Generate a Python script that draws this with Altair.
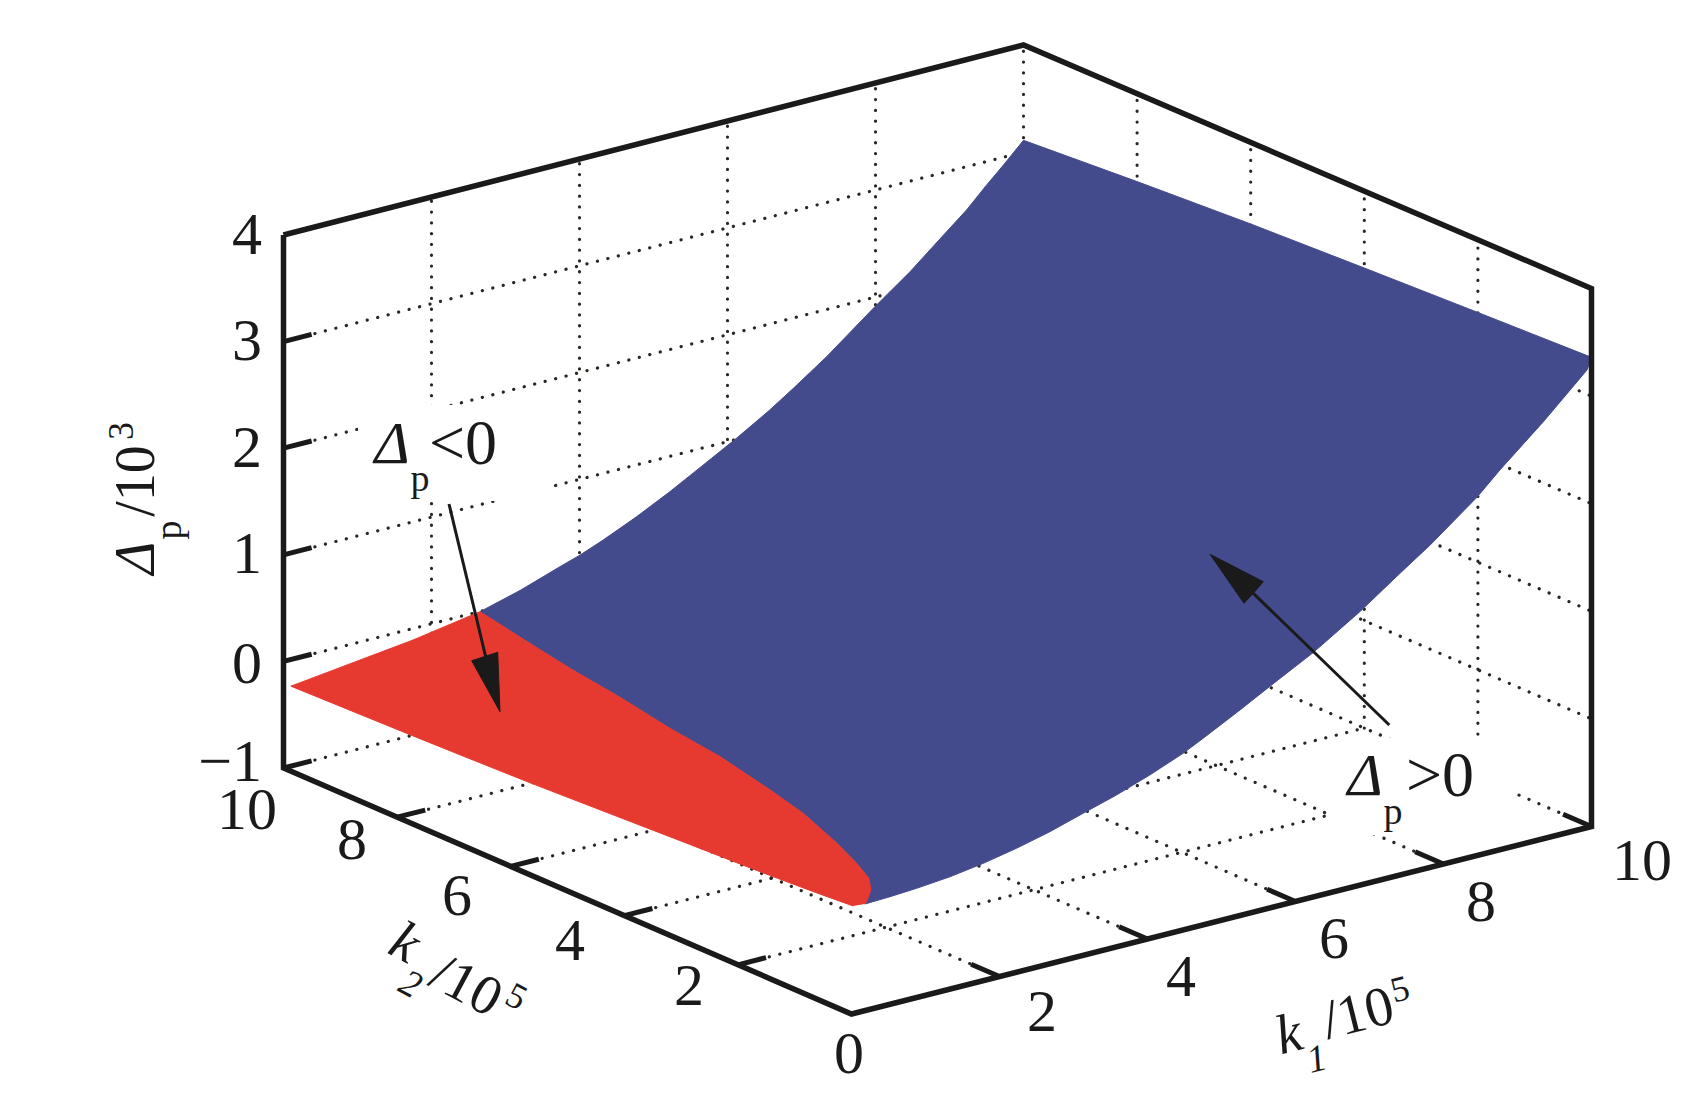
import altair as alt
import pandas as pd

# ---------- values ----------
TICKS_K = [0, 2, 4, 6, 8, 10]
TICKS_D = [-1, 0, 1, 2, 3, 4]

# surface edges: (k1, k2, delta_p)
edge_k2_low_k1 = [0.18, 0.52, 0.88, 1.33, 1.78, 2.23, 2.68, 3.13, 3.58, 4.03, 4.48, 4.75, 5.25, 5.66, 6.24, 6.87, 7.41, 7.82, 8.45, 8.76, 9.35, 9.94]
edge_k2_low_d = [-0.005, 0.004, 0.019, 0.048, 0.094, 0.156, 0.231, 0.324, 0.415, 0.523, 0.646, 0.738, 0.915, 1.067, 1.276, 1.546, 1.807, 1.999, 2.331, 2.53, 2.877, 3.254]

edge_k1_high_k2 = [0, 2, 4, 6, 8]
edge_k1_high_d = [3.36, 3.324, 3.284, 3.24, 3.18]

edge_k2_high_k1 = [10.0, 9.73, 9.50, 9.23, 8.92, 8.47, 7.99, 7.34, 6.89, 6.57, 6.12, 5.67, 5.22, 4.77, 4.32, 4.01, 3.74, 3.20, 2.655]
edge_k2_high_d = [3.11, 2.928, 2.78, 2.595, 2.417, 2.155, 1.91, 1.559, 1.342, 1.195, 1.01, 0.839, 0.669, 0.514, 0.376, 0.291, 0.23, 0.102, -0.002]

zero_k1 = [2.49, 2.30, 2.16, 1.97, 1.84, 1.61, 1.43, 1.13, 0.90, 0.71, 0.50, 0.23]
zero_k2 = [9.08, 7.95, 6.90, 5.76, 4.71, 3.53, 2.71, 1.73, 1.08, 0.62, 0.31, 0.035]

edge_k2_high_low_k1 = [1.75, 0.10]
edge_k2_high_low_d = [-0.108, -0.25]

edge_k1_low_k2 = [7.90, 6.85, 5.73, 3.91, 3.03, 2.15, 1.57, 0.69, 0.10]
edge_k1_low_d = [-0.222, -0.205, -0.185, -0.14, -0.118, -0.098, -0.083, -0.055, -0.032]

BLUE = "#444b8c"
RED = "#e63a30"
INK = "#1a1a1a"
DOT = "#2a2622"
SERIF = "Liberation Serif"


# ---------- oblique view of the 3-D box ----------
def px(k1, k2, d):
    return 851.5 + 74.0 * k1 - 56.8 * k2


def py(k1, k2, d):
    return 1014.0 - 18.75 * k1 - 24.6 * k2 - (107.1 + 0.05 * (k1 - k2)) * (d + 1)


def frame_of(points):
    return pd.DataFrame(
        [{"x": px(*p), "y": py(*p), "i": i} for i, p in enumerate(points)]
    )


X = alt.X("x:Q", scale=alt.Scale(domain=[8, 1682]), axis=None)
Y = alt.Y("y:Q", scale=alt.Scale(domain=[1093, 8]), axis=None)


def path(points, **mark):
    return alt.Chart(frame_of(points)).mark_line(**mark).encode(X, Y, order="i:Q")


def raw(xs, ys, **mark):
    df = pd.DataFrame({"x": xs, "y": ys, "i": range(len(xs))})
    return alt.Chart(df).mark_line(**mark).encode(X, Y, order="i:Q")


def label(text, x, y, size=60, style="normal", angle=0, align="center"):
    df = pd.DataFrame({"x": [x], "y": [y], "t": [text]})
    return (
        alt.Chart(df)
        .mark_text(
            font=SERIF,
            fontSize=size,
            fontStyle=style,
            angle=angle,
            align=align,
            baseline="middle",
            color=INK,
        )
        .encode(X, Y, text="t:N")
    )


layers = []

# ---------- dotted grid ----------
grid_style = dict(color=DOT, strokeWidth=3.2, strokeDash=[0.1, 10.7], strokeCap="round")
inner = [2, 4, 6, 8]
for d in TICKS_D[:-1]:
    layers.append(path([(0, 10, d), (10, 10, d)], **grid_style))
    layers.append(path([(10, 10, d), (10, 0, d)], **grid_style))
for k in inner:
    layers.append(path([(k, 10, -1), (k, 10, 4)], **grid_style))
    layers.append(path([(10, k, -1), (10, k, 4)], **grid_style))
    layers.append(path([(k, 0, -1), (k, 10, -1)], **grid_style))
    layers.append(path([(0, k, -1), (10, k, -1)], **grid_style))
layers.append(path([(10, 10, -1), (10, 10, 4)], **grid_style))

# ---------- white plates behind the annotations ----------
plates = pd.DataFrame(
    {"x": [358, 1328], "x2": [547, 1512], "y": [405, 738], "y2": [501, 835]}
)
layers.append(
    alt.Chart(plates)
    .mark_rect(color="white")
    .encode(X, Y, x2="x2:Q", y2="y2:Q")
)

# ---------- surface ----------
contour = [(a, b, 0) for a, b in zip(zero_k1, zero_k2)]
blue = (
    [(k, 0, d) for k, d in zip(edge_k2_low_k1, edge_k2_low_d)]
    + [(10, k, d) for k, d in zip(edge_k1_high_k2, edge_k1_high_d)]
    + [(k, 10, d) for k, d in zip(edge_k2_high_k1, edge_k2_high_d)]
    + contour
)
red = (
    [(edge_k2_low_k1[0], 0, edge_k2_low_d[0])]
    + contour[::-1]
    + [(edge_k2_high_k1[-1], 10, edge_k2_high_d[-1])]
    + [(k, 10, d) for k, d in zip(edge_k2_high_low_k1, edge_k2_high_low_d)]
    + [(0.10, k, d) for k, d in zip(edge_k1_low_k2, edge_k1_low_d)]
)
layers.append(path(blue, color=BLUE, fill=BLUE, strokeWidth=1))
layers.append(path(red, color=RED, fill=RED, strokeWidth=1))

# ---------- frame and ticks ----------
layers.append(
    path(
        [(0, 10, 4), (10, 10, 4), (10, 0, 4), (10, 0, -1), (0, 0, -1), (0, 10, -1), (0, 10, 4)],
        color=INK,
        strokeWidth=5.5,
        strokeJoin="miter",
    )
)
tick_style = dict(color=INK, strokeWidth=5)
for d in TICKS_D[:-1]:
    layers.append(path([(0, 10, d), (0.38, 10, d)], **tick_style))
for k in inner:
    layers.append(path([(0, k, -1), (0.38, k, -1)], **tick_style))
    layers.append(path([(k, 0, -1), (k, 0.5, -1)], **tick_style))
layers.append(path([(10, 0, -1), (10, 0.5, -1)], **tick_style))

# ---------- tick labels ----------
d_labels = {4: ("4", 247, 236), 3: ("3", 247, 342), 2: ("2", 247, 449), 1: ("1", 247, 555), 0: ("0", 247, 665), -1: ("\u22121", 262, 763)}
for d, (t, x, y) in d_labels.items():
    layers.append(label(t, x, y, align="right" if d == -1 else "center"))
for t, x, y in [("10", 247, 811), ("8", 352, 841), ("6", 457, 897), ("4", 570, 942), ("2", 689, 987), ("0", 849, 1055)]:
    layers.append(label(t, x, y))
for t, x, y in [("2", 1042, 1013), ("4", 1181, 978), ("6", 1334, 940), ("8", 1481, 903), ("10", 1642, 862)]:
    layers.append(label(t, x, y))

# ---------- axis titles ----------
layers += [
    label("k", 1289, 1035, 56, "italic", 346),
    label("1", 1317, 1060, 38, "italic", 346),
    label("/10", 1358, 1014, 56, "normal", 346),
    label("5", 1400, 990, 36, "normal", 346),
    label("k", 405, 943, 56, "italic", 28),
    label("2", 410, 985, 38, "italic", 28),
    label("/10", 466, 986, 56, "normal", 28),
    label("5", 516, 997, 36, "normal", 28),
    label("\u0394", 137, 558, 56, "italic", 270),
    label("p", 170, 530, 38, "normal", 270),
    label("/10", 137, 481, 56, "normal", 270),
    label("3", 122, 431, 36, "normal", 270),
]

# ---------- annotations ----------
layers += [
    label("\u0394", 392, 445, 60, "italic"),
    label("p", 420, 480, 38),
    label("<0", 463, 445, 64),
    label("\u0394", 1365, 777, 60, "italic"),
    label("p", 1393, 813, 38),
    label(">0", 1440, 777, 64),
]
layers.append(raw([449, 486], [504, 658], color=INK, strokeWidth=3))
layers.append(raw([500, 471.7, 497.7, 500], [711.7, 660.7, 652.3, 711.7], color=INK, fill=INK, strokeWidth=1))
layers.append(raw([1389.3, 1253.3], [725, 593.3], color=INK, strokeWidth=3))
layers.append(raw([1210, 1263.3, 1253.3, 1244, 1210], [554.3, 581.7, 593.3, 603.3, 554.3], color=INK, fill=INK, strokeWidth=1))

chart = (
    alt.layer(*layers)
    .properties(
        width=1674,
        height=1085,
        padding=0,
        autosize=alt.AutoSizeParams(type="none"),
        view=alt.ViewBackground(stroke=None, strokeWidth=0),
    )
    .configure_view(strokeWidth=0, stroke=None)
    .configure(background="transparent")
)

chart.save("out.html", embed_options={"renderer": "svg", "actions": False})
